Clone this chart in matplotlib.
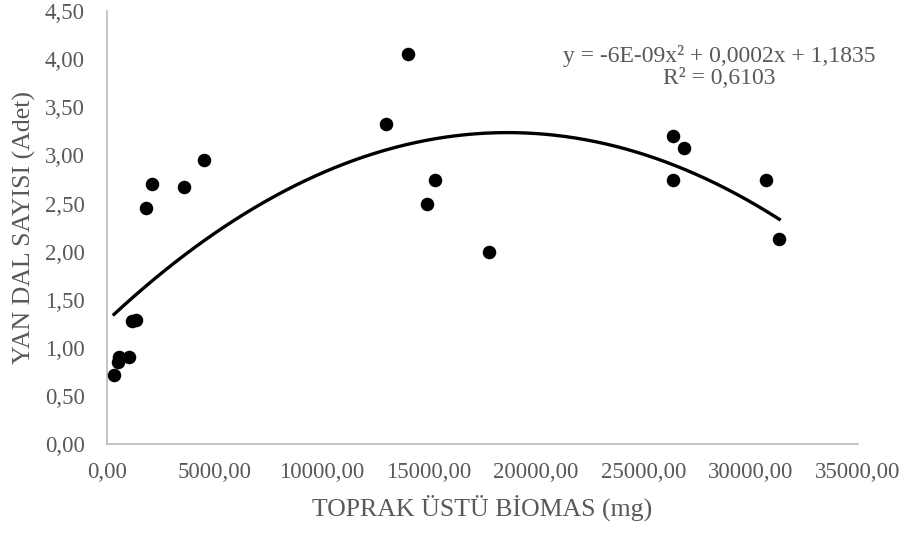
import numpy as np
import matplotlib
matplotlib.use("Agg")
import matplotlib.pyplot as plt

# toprak ustu biomas (mg) ve yan dal sayisi (adet)
biomas = [326, 527, 560, 1040, 1150, 1350, 1817, 2097, 3603, 4520,
          13000, 14007, 14890, 15270, 17800,
          26390, 26900, 26400, 30730, 31330]
yan_dal = [0.72, 0.85, 0.90, 0.90, 1.28, 1.29, 2.45, 2.70, 2.67, 2.95,
           3.33, 4.06, 2.50, 2.75, 2.00,
           3.20, 3.08, 2.75, 2.75, 2.13]

x_ticks = [0, 5000, 10000, 15000, 20000, 25000, 30000, 35000]
y_ticks = [0, 0.5, 1.0, 1.5, 2.0, 2.5, 3.0, 3.5, 4.0, 4.5]

grey = "#595959"
plt.rcParams['font.family'] = ['Liberation Serif', 'DejaVu Serif']

fig = plt.figure(figsize=(9.07, 5.33), dpi=100)
ax = fig.add_axes([0.118, 0.167, 0.828, 0.812])

ax.scatter(biomas, yan_dal, s=95, color="black", zorder=3, linewidths=0)

# 2. derece polinom trend cizgisi
coef = np.polyfit(biomas, yan_dal, 2)
xs = np.linspace(min(biomas), max(biomas), 200)
ax.plot(xs, np.polyval(coef, xs), color="black", lw=2.4, zorder=2)

ax.set_xlim(0, 35000)
ax.set_ylim(0, 4.5)
ax.set_xticks(x_ticks)
ax.set_yticks(y_ticks)
ax.set_xticklabels([f"{v:.2f}".replace(".", ",") for v in x_ticks])
ax.set_yticklabels([f"{v:.2f}".replace(".", ",") for v in y_ticks])
ax.tick_params(length=0, labelsize=16.5, colors=grey)
ax.tick_params(axis="x", pad=13)
ax.tick_params(axis="y", pad=16)

for s in ["top", "right"]:
    ax.spines[s].set_visible(False)
for s in ["left", "bottom"]:
    ax.spines[s].set_color("#BFBFBF")
    ax.spines[s].set_linewidth(1.3)

ax.set_xlabel("TOPRAK ÜSTÜ BİOMAS (mg)", fontsize=18.6, color=grey, labelpad=8)
ax.set_ylabel("YAN DAL SAYISI (Adet)", fontsize=18.6, color=grey, labelpad=6)

fig.text(719 / 907, 1 - 67 / 533, "y = -6E-09x² + 0,0002x + 1,1835\nR² = 0,6103",
         ha="center", va="center", fontsize=17, color=grey, linespacing=1.1)

fig.savefig("out.png", dpi=100)
